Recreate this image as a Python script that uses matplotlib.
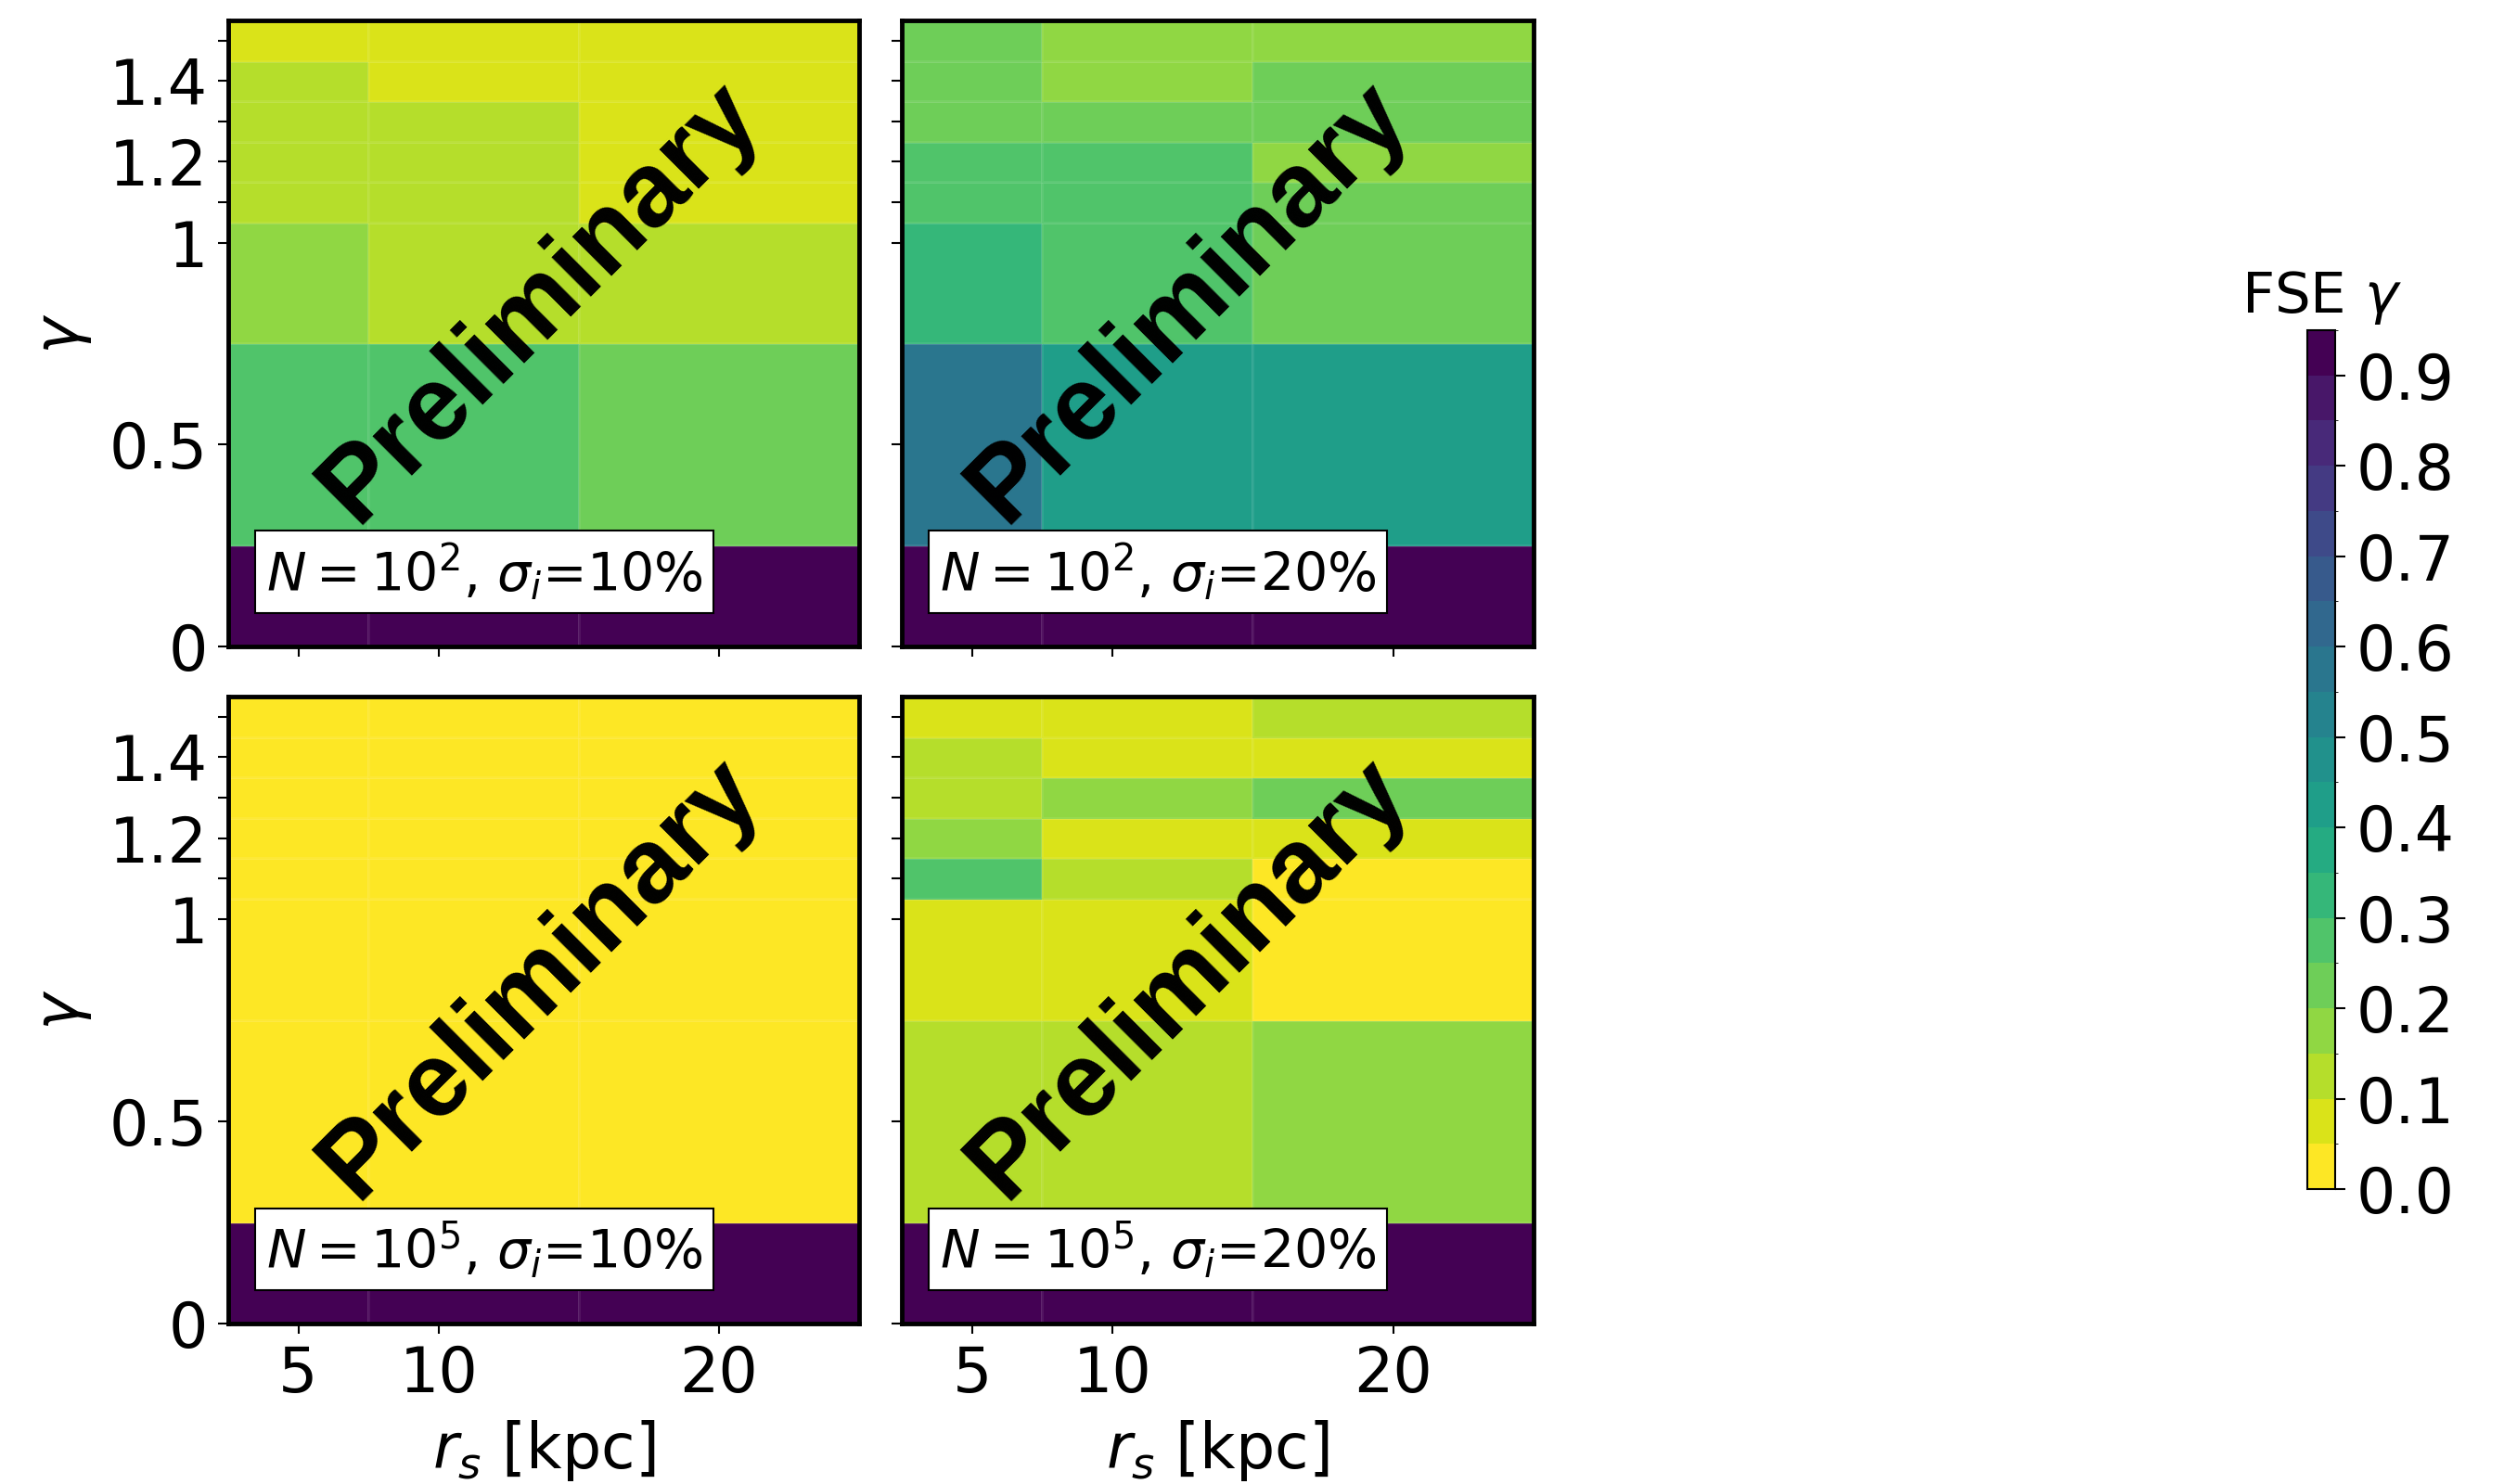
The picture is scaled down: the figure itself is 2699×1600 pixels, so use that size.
import matplotlib
matplotlib.use("Agg")
import matplotlib.pyplot as plt
import numpy as np
from matplotlib.colors import BoundaryNorm

# grid of the scan
rs = [5, 10, 20]                                # r_s [kpc]
gamma = [0, 0.5, 1, 1.1, 1.2, 1.3, 1.4, 1.5]    # inner slope

# FSE gamma, rows = gamma, columns = r_s
fse_n2_s10 = [[0.93, 0.93, 0.93],
              [0.27, 0.27, 0.22],
              [0.17, 0.12, 0.12],
              [0.12, 0.12, 0.07],
              [0.12, 0.12, 0.07],
              [0.12, 0.12, 0.07],
              [0.12, 0.07, 0.07],
              [0.07, 0.07, 0.07]]

fse_n2_s20 = [[0.93, 0.93, 0.93],
              [0.57, 0.42, 0.42],
              [0.32, 0.27, 0.22],
              [0.27, 0.27, 0.22],
              [0.27, 0.27, 0.17],
              [0.22, 0.22, 0.22],
              [0.22, 0.17, 0.22],
              [0.22, 0.17, 0.17]]

fse_n5_s10 = [[0.93, 0.93, 0.93],
              [0.02, 0.02, 0.02],
              [0.02, 0.02, 0.02],
              [0.02, 0.02, 0.02],
              [0.02, 0.02, 0.02],
              [0.02, 0.02, 0.02],
              [0.02, 0.02, 0.02],
              [0.02, 0.02, 0.02]]

fse_n5_s20 = [[0.93, 0.93, 0.93],
              [0.12, 0.12, 0.17],
              [0.07, 0.07, 0.02],
              [0.27, 0.12, 0.02],
              [0.17, 0.07, 0.07],
              [0.12, 0.17, 0.22],
              [0.12, 0.07, 0.07],
              [0.07, 0.07, 0.12]]

labels = [r"$N=10^2$, $\sigma_i$=10%", r"$N=10^2$, $\sigma_i$=20%",
          r"$N=10^5$, $\sigma_i$=10%", r"$N=10^5$, $\sigma_i$=20%"]
panels = [fse_n2_s10, fse_n2_s20, fse_n5_s10, fse_n5_s20]

ytick_vals = gamma
ytick_labels = ["0", "0.5", "1", "", "1.2", "", "1.4", ""]
xtick_vals = [5, 10, 20]

# discrete colour levels
levels = np.arange(0, 1.0, 0.05)
cmap = plt.get_cmap("viridis_r")
norm = BoundaryNorm(levels, cmap.N)

fig = plt.figure(figsize=(26.99, 16), dpi=100)

W, H = 2699., 1600.
boxes = [(246, 22, 926, 697), (972, 22, 1653, 697),
         (246, 751, 926, 1427), (972, 751, 1653, 1427)]
prelim_x = [0.495, 0.455, 0.495, 0.455]

for i, (Z, lab) in enumerate(zip(panels, labels)):
    x0, y0, x1, y1 = boxes[i]
    ax = fig.add_axes([x0 / W, 1 - y1 / H, (x1 - x0) / W, (y1 - y0) / H])
    mesh = ax.pcolormesh(rs, gamma, np.array(Z), shading="nearest", cmap=cmap, norm=norm,
                         edgecolors=(1, 1, 1, 0.08), linewidth=1.0)
    ax.set_xlim(2.5, 25)
    ax.set_ylim(0, 1.55)
    ax.set_yticks(ytick_vals)
    ax.set_xticks(xtick_vals)
    if i % 2 == 0:
        ax.set_yticklabels(ytick_labels)
        ax.set_ylabel(r"$\gamma$", fontsize=48, labelpad=12)
    else:
        ax.set_yticklabels([])
    if i >= 2:
        ax.set_xticklabels([str(v) for v in xtick_vals])
        ax.set_xlabel(r"$r_s$ [kpc]", fontsize=48, labelpad=10)
    else:
        ax.set_xticklabels([])
    ax.tick_params(labelsize=48, length=8, width=1.5, pad=8)
    for sp in ax.spines.values():
        sp.set_linewidth(3.5)

    ax.text(0.06, 0.07, lab, transform=ax.transAxes, fontsize=41,
            ha="left", va="bottom",
            bbox=dict(boxstyle="square,pad=0.2", facecolor="white", edgecolor="black", linewidth=1.5))
    ax.text(prelim_x[i], 0.55, "Preliminary", transform=ax.transAxes, rotation=45,
            fontsize=82, fontweight="bold", family="Liberation Sans",
            ha="center", va="center", rotation_mode="anchor", color="black")

# colour bar
cax = fig.add_axes([2487 / W, 1 - 1282 / H, 30 / W, 926 / H])
cb = fig.colorbar(mesh, cax=cax, ticks=np.arange(0, 0.95, 0.1))
cb.ax.set_yticklabels(["%.1f" % t for t in np.arange(0, 0.95, 0.1)])
cb.ax.tick_params(labelsize=48, length=8, width=1.5, pad=8)
cb.outline.set_linewidth(1.5)
cax.set_title(r"FSE $\gamma$", fontsize=44, pad=14)

plt.savefig("out.png", dpi=100)
